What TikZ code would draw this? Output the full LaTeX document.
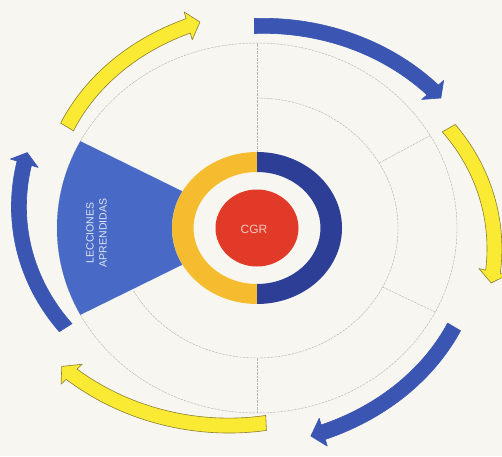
\documentclass[tikz,border=0pt]{standalone}
\usepackage{fontspec}
\setmainfont{Liberation Sans}
\usetikzlibrary{calc}
\definecolor{paper}{RGB}{248,246,240}
\definecolor{arrblue}{RGB}{58,86,178}
\definecolor{arryel}{RGB}{250,234,52}
\definecolor{yeledge}{RGB}{140,128,50}
\definecolor{secblue}{RGB}{72,106,198}
\definecolor{ringgold}{RGB}{246,188,48}
\definecolor{ringnavy}{RGB}{44,62,150}
\definecolor{cgrred}{RGB}{226,58,40}
\definecolor{gridgray}{RGB}{180,180,180}
\definecolor{cgrtext}{RGB}{245,200,190}
\definecolor{lecctext}{RGB}{225,230,245}

\def\cgrcx{254.5}
\def\cgrcy{232}
\def\cgrrx{228}
\def\cgrry{198}
\def\cgrhw{7.5}
\def\cgrfl{7}
% #1 fill, #2 draw, #3 tail angle, #4 tip angle, #5 tail scale, #6 tip scale
\newcommand{\cgrarrow}[6]{%
  \pgfmathsetmacro\cgrtb{(#4)+3}%
  \pgfmathsetmacro\cgrsb{(#5)+((#6)-(#5))*(\cgrtb-(#3))/((#4)-(#3))}%
  \def\cgrS{((#5)+((#6)-(#5))*(\x-(#3))/((#4)-(#3)))}%
  \filldraw[fill=#1,draw=#2,line width=0.6pt,line join=round]
    plot[domain=#3:\cgrtb,samples=40] ({\cgrcx+(\cgrS*\cgrrx+\cgrhw)*cos(\x)},{\cgrcy+(\cgrS*\cgrry+\cgrhw)*sin(\x)})
    -- ({\cgrcx+(\cgrsb*\cgrrx+\cgrhw+\cgrfl)*cos(\cgrtb)},{\cgrcy+(\cgrsb*\cgrry+\cgrhw+\cgrfl)*sin(\cgrtb)})
    -- ({\cgrcx+(#6)*\cgrrx*cos(#4)},{\cgrcy+(#6)*\cgrry*sin(#4)})
    -- ({\cgrcx+(\cgrsb*\cgrrx-\cgrhw-\cgrfl)*cos(\cgrtb)},{\cgrcy+(\cgrsb*\cgrry-\cgrhw-\cgrfl)*sin(\cgrtb)})
    -- plot[domain=\cgrtb:#3,samples=40] ({\cgrcx+(\cgrS*\cgrrx-\cgrhw)*cos(\x)},{\cgrcy+(\cgrS*\cgrry-\cgrhw)*sin(\x)})
    -- cycle;
}

\begin{document}
\begin{tikzpicture}[x=1pt,y=1pt,
  gridline/.style={draw=gridgray,line width=0.45pt,dash pattern=on 2.5pt off 1pt}]
\useasboundingbox (0,0) rectangle (502,456);
\fill[paper] (0,0) rectangle (502,456);
\coordinate (O) at (257,228);

% dashed guide circles and radial lines
\draw[gridline] (O) ellipse [x radius=200, y radius=185];
\draw[gridline] ([shift={(90:141 and 130)}]O) arc[start angle=90, end angle=-151.5, x radius=141, y radius=130];
\draw[gridline] ([shift={(90:85 and 76)}]O) -- ([shift={(90:200 and 185)}]O);
\draw[gridline] ([shift={(30:141 and 130)}]O) -- ([shift={(30:200 and 185)}]O);
\draw[gridline] ([shift={(-27:141 and 130)}]O) -- ([shift={(-27:200 and 185)}]O);
\draw[gridline] ([shift={(-90:141 and 130)}]O) -- ([shift={(-90:200 and 185)}]O);

% blue sector
\fill[secblue] (O) -- ([shift={(152:200 and 185)}]O) arc[start angle=152, end angle=208, x radius=200, y radius=185] -- cycle;

% ring halves
\fill[paper] (O) ellipse [x radius=85, y radius=76];
\fill[ringgold] ([shift={(90:85 and 76)}]O) arc[start angle=90, end angle=270, x radius=85, y radius=76]
  -- ([shift={(270:63.5 and 56)}]O) arc[start angle=270, end angle=90, x radius=63.5, y radius=56] -- cycle;
\fill[ringnavy] ([shift={(90:85 and 76)}]O) arc[start angle=90, end angle=-90, x radius=85, y radius=76]
  -- ([shift={(-90:63.5 and 56)}]O) arc[start angle=-90, end angle=90, x radius=63.5, y radius=56] -- cycle;

% red core
\fill[cgrred] (O) ellipse [x radius=41.5, y radius=38.5];
\node[text=cgrtext, font=\fontsize{12}{14}\selectfont] (cgr) at (254,227) {CGR};

\node[rotate=90, align=center, text=lecctext, font=\fontsize{10.5}{13}\selectfont] (lecc) at (96.5,223) {LECCIONES\\APRENDIDAS};

% surrounding arrows (clockwise)
\cgrarrow{arrblue}{arrblue}{90}{37.9}{1.0}{1.036}
\cgrarrow{arryel}{yeledge}{29.6}{-16}{0.98}{1.08}
\cgrarrow{arrblue}{arrblue}{-30.7}{-77}{1.018}{1.099}
\cgrarrow{arryel}{yeledge}{-87.1}{-139.6}{1.006}{1.11}
\cgrarrow{arrblue}{arrblue}{212.3}{160.1}{0.98}{1.06}
\cgrarrow{arryel}{yeledge}{149.2}{103.2}{0.957}{1.048}
\end{tikzpicture}
\end{document}
